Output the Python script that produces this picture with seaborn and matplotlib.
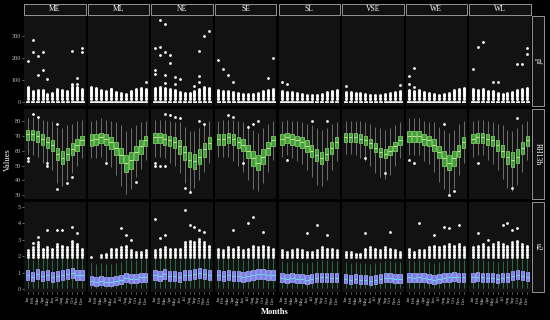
import pandas as pd
import seaborn as sns
import matplotlib.pyplot as plt
from matplotlib.patches import Rectangle

# categories
sites = ["ME", "ML", "NE", "SE", "SL", "VSE", "WE", "WL"]
months = ["Jan", "Feb", "Mar", "Apr", "May", "Jun", "Jul", "Aug", "Sep", "Oct", "Nov", "Dec"]
variables = ["pf", "RH13h", "u2"]

# ---- pf: box stats (tiny boxes near zero) ----
pf_lo = [[0] * 12] * 8
pf_q1 = [[0] * 12] * 8
pf_med = [[1] * 12] * 8
pf_q3 = [[5] * 12] * 8
pf_hi = [[12] * 12] * 8
# top of the dense column of outliers for each month
pf_stack_top = [
    [69, 50, 54, 57, 34, 39, 60, 54, 50, 79, 69, 60],
    [69, 64, 57, 49, 60, 45, 39, 34, 49, 60, 64, 60],
    [65, 70, 65, 60, 55, 45, 40, 40, 50, 60, 70, 65],
    [55, 50, 50, 45, 40, 35, 35, 35, 40, 50, 55, 60],
    [50, 45, 45, 40, 35, 30, 30, 30, 35, 45, 50, 55],
    [45, 45, 40, 40, 35, 30, 30, 30, 35, 40, 45, 50],
    [55, 50, 55, 45, 40, 35, 30, 35, 40, 55, 60, 65],
    [60, 55, 60, 50, 50, 40, 35, 40, 45, 55, 60, 65],
]
pf_stack_levels = [14, 19, 24, 29, 34, 39, 44, 49, 54, 59, 64, 69, 74, 79]
pf_extremes = {
    "ME": [(0, 184), (1, 280), (1, 225), (2, 206), (2, 120), (3, 225), (3, 146),
           (4, 101), (9, 231), (10, 106), (10, 79), (11, 243), (11, 224)],
    "ML": [(4, 57), (11, 90)],
    "NE": [(0, 243), (0, 146), (0, 128), (1, 370), (1, 250), (1, 213), (2, 352),
           (2, 224), (2, 120), (2, 84), (3, 213), (3, 176), (4, 113), (4, 79),
           (5, 101), (8, 72), (9, 228), (9, 116), (9, 90), (10, 300), (11, 320)],
    "SE": [(0, 190), (1, 150), (2, 120), (3, 90), (10, 110), (11, 200)],
    "SL": [(0, 90), (1, 80)],
    "VSE": [(0, 70), (11, 75)],
    "WE": [(0, 115), (0, 80), (1, 155), (1, 65)],
    "WL": [(0, 150), (1, 250), (2, 270), (4, 90), (5, 90), (9, 170), (10, 170),
           (11, 245), (11, 215)],
}

# ---- RH13h ----
rh_med = [
    [71, 71, 70, 68, 66, 64, 58, 55, 58, 61, 64, 67],
    [67, 68, 69, 68, 66, 62, 57, 52, 54, 59, 63, 67],
    [69, 69, 68, 67, 66, 63, 59, 54, 53, 56, 61, 65],
    [68, 68, 69, 68, 66, 64, 60, 55, 52, 56, 62, 67],
    [68, 69, 68, 67, 66, 63, 60, 57, 55, 58, 62, 66],
    [69, 69, 69, 68, 67, 65, 62, 59, 58, 60, 63, 67],
    [70, 70, 70, 68, 67, 64, 59, 55, 52, 55, 60, 66],
    [68, 69, 69, 68, 67, 64, 60, 56, 54, 56, 62, 67],
]
rh_q1 = [
    [67, 67, 66, 64, 62, 60, 54, 51, 54, 57, 60, 64],
    [63, 64, 65, 64, 61, 57, 52, 46, 48, 54, 58, 63],
    [65, 65, 64, 63, 62, 58, 54, 49, 48, 51, 56, 61],
    [64, 64, 65, 64, 62, 60, 55, 50, 47, 51, 57, 63],
    [64, 65, 64, 63, 62, 59, 56, 53, 51, 54, 58, 62],
    [66, 66, 66, 65, 64, 62, 59, 56, 55, 57, 60, 64],
    [66, 66, 66, 64, 63, 60, 55, 50, 47, 50, 56, 62],
    [65, 65, 65, 64, 63, 60, 56, 51, 49, 52, 58, 63],
]
rh_q3 = [
    [74, 74, 73, 71, 69, 67, 62, 60, 62, 65, 68, 70],
    [71, 71, 72, 71, 69, 66, 62, 57, 59, 63, 67, 70],
    [72, 72, 71, 70, 69, 67, 63, 59, 58, 61, 65, 69],
    [71, 71, 72, 71, 69, 68, 64, 60, 57, 61, 66, 70],
    [71, 72, 71, 70, 69, 67, 64, 61, 59, 62, 66, 69],
    [72, 72, 72, 71, 70, 68, 65, 62, 61, 63, 66, 70],
    [73, 73, 73, 71, 70, 68, 63, 60, 57, 60, 64, 69],
    [71, 72, 72, 71, 70, 67, 64, 60, 59, 61, 66, 70],
]
rh_lo = [
    [58, 57, 56, 52, 50, 47, 38, 36, 40, 45, 50, 55],
    [55, 55, 56, 53, 49, 44, 36, 31, 34, 42, 48, 54],
    [56, 56, 55, 52, 50, 45, 38, 33, 35, 40, 46, 52],
    [56, 56, 56, 53, 50, 46, 40, 34, 33, 38, 46, 54],
    [56, 57, 55, 53, 51, 47, 42, 37, 36, 40, 47, 53],
    [58, 58, 57, 55, 53, 50, 45, 42, 41, 44, 50, 55],
    [57, 57, 57, 53, 51, 46, 39, 34, 31, 35, 44, 52],
    [56, 57, 57, 54, 51, 47, 41, 35, 33, 37, 46, 54],
]
rh_hi = [
    [82, 83, 82, 81, 80, 80, 76, 75, 77, 78, 80, 81],
    [80, 81, 82, 81, 80, 79, 77, 73, 75, 77, 79, 80],
    [81, 81, 81, 80, 79, 79, 76, 73, 73, 75, 78, 80],
    [80, 81, 81, 81, 80, 79, 77, 74, 72, 75, 78, 80],
    [80, 81, 80, 80, 79, 78, 77, 75, 74, 75, 78, 79],
    [80, 80, 80, 80, 79, 78, 76, 75, 74, 75, 77, 79],
    [82, 82, 82, 80, 79, 79, 76, 74, 72, 74, 78, 80],
    [80, 81, 81, 80, 79, 78, 77, 74, 73, 75, 78, 80],
]
rh_outliers = {
    "ME": [(0, 55), (0, 53), (1, 85), (2, 83), (4, 52), (4, 50), (6, 78), (6, 34),
           (8, 38), (9, 42)],
    "ML": [(3, 52), (9, 39)],
    "NE": [(0, 52), (0, 50), (1, 50), (2, 85), (2, 50), (3, 84), (4, 83), (5, 82),
           (6, 35), (7, 32), (9, 80), (10, 78)],
    "SE": [(2, 84), (3, 83), (5, 52), (6, 76), (7, 78), (8, 80)],
    "SL": [(1, 54), (6, 80), (9, 80)],
    "VSE": [(4, 55), (8, 45)],
    "WE": [(0, 54), (1, 52), (7, 78), (8, 30), (9, 33)],
    "WL": [(1, 52), (8, 35), (9, 82)],
}

# ---- u2 ----
u2_med = [
    [0.85, 0.75, 0.90, 0.80, 0.85, 0.75, 0.80, 0.85, 0.90, 0.95, 0.85, 0.85],
    [0.50, 0.45, 0.50, 0.45, 0.45, 0.50, 0.55, 0.65, 0.60, 0.60, 0.70, 0.70],
    [0.85, 0.80, 0.90, 0.80, 0.80, 0.75, 0.85, 0.85, 0.90, 0.95, 0.90, 0.85],
    [0.85, 0.80, 0.85, 0.80, 0.80, 0.75, 0.80, 0.85, 0.90, 0.90, 0.85, 0.85],
    [0.65, 0.60, 0.65, 0.60, 0.60, 0.55, 0.60, 0.65, 0.70, 0.70, 0.65, 0.65],
    [0.60, 0.55, 0.60, 0.55, 0.55, 0.50, 0.55, 0.60, 0.65, 0.65, 0.60, 0.60],
    [0.70, 0.65, 0.70, 0.65, 0.60, 0.55, 0.60, 0.65, 0.70, 0.75, 0.70, 0.70],
    [0.70, 0.75, 0.70, 0.65, 0.65, 0.60, 0.65, 0.70, 0.80, 0.85, 0.80, 0.75],
]
u2_q1 = [
    [0.55, 0.50, 0.60, 0.50, 0.55, 0.45, 0.50, 0.55, 0.60, 0.65, 0.55, 0.55],
    [0.25, 0.20, 0.25, 0.20, 0.20, 0.25, 0.30, 0.40, 0.35, 0.35, 0.45, 0.45],
    [0.55, 0.50, 0.60, 0.50, 0.50, 0.45, 0.55, 0.55, 0.60, 0.65, 0.60, 0.55],
    [0.55, 0.50, 0.55, 0.50, 0.50, 0.45, 0.50, 0.55, 0.60, 0.60, 0.55, 0.55],
    [0.40, 0.35, 0.40, 0.35, 0.35, 0.30, 0.35, 0.40, 0.45, 0.45, 0.40, 0.40],
    [0.35, 0.30, 0.35, 0.30, 0.30, 0.25, 0.30, 0.35, 0.40, 0.40, 0.35, 0.35],
    [0.45, 0.40, 0.45, 0.40, 0.35, 0.30, 0.35, 0.40, 0.45, 0.50, 0.45, 0.45],
    [0.45, 0.50, 0.45, 0.40, 0.40, 0.35, 0.40, 0.45, 0.55, 0.60, 0.55, 0.50],
]
u2_q3 = [
    [1.15, 1.05, 1.20, 1.10, 1.15, 1.05, 1.10, 1.15, 1.20, 1.30, 1.15, 1.15],
    [0.80, 0.75, 0.80, 0.75, 0.75, 0.80, 0.85, 1.00, 0.90, 0.90, 1.00, 1.00],
    [1.15, 1.10, 1.20, 1.10, 1.10, 1.05, 1.15, 1.15, 1.20, 1.25, 1.20, 1.15],
    [1.15, 1.10, 1.15, 1.10, 1.10, 1.05, 1.10, 1.15, 1.20, 1.20, 1.15, 1.15],
    [0.95, 0.90, 0.95, 0.90, 0.90, 0.85, 0.90, 0.95, 1.00, 1.00, 0.95, 0.95],
    [0.90, 0.85, 0.90, 0.85, 0.85, 0.80, 0.85, 0.90, 0.95, 0.95, 0.90, 0.90],
    [1.00, 0.95, 1.00, 0.95, 0.90, 0.85, 0.90, 0.95, 1.00, 1.05, 1.00, 1.00],
    [1.00, 1.05, 1.00, 0.95, 0.95, 0.90, 0.95, 1.00, 1.10, 1.15, 1.10, 1.05],
]
u2_lo = [[0.05] * 12] * 8
u2_hi = [
    [1.90, 1.75, 1.95, 1.80, 1.90, 1.75, 1.80, 1.90, 1.95, 2.10, 1.90, 1.90],
    [1.60, 1.55, 1.60, 1.55, 1.55, 1.60, 1.65, 1.85, 1.75, 1.75, 1.80, 1.80],
    [1.90, 1.85, 1.95, 1.85, 1.85, 1.75, 1.90, 1.90, 1.95, 2.05, 1.95, 1.90],
    [1.90, 1.85, 1.90, 1.85, 1.85, 1.75, 1.85, 1.90, 1.95, 1.95, 1.90, 1.90],
    [1.70, 1.65, 1.70, 1.65, 1.65, 1.60, 1.65, 1.70, 1.75, 1.75, 1.70, 1.70],
    [1.65, 1.60, 1.65, 1.60, 1.60, 1.55, 1.60, 1.65, 1.70, 1.70, 1.65, 1.65],
    [1.75, 1.70, 1.75, 1.70, 1.65, 1.60, 1.65, 1.70, 1.75, 1.80, 1.75, 1.75],
    [1.75, 1.80, 1.75, 1.70, 1.70, 1.65, 1.70, 1.75, 1.85, 1.90, 1.85, 1.80],
]
u2_stack_top = [
    [2.4, 2.6, 2.9, 2.5, 2.6, 2.5, 2.8, 2.7, 2.6, 3.0, 2.8, 2.5],
    [2.0, 1.9, 2.1, 2.2, 2.5, 2.5, 2.6, 2.7, 2.4, 2.3, 2.3, 2.4],
    [2.4, 2.5, 2.6, 2.5, 2.5, 2.5, 2.9, 3.0, 2.9, 3.1, 2.9, 2.7],
    [2.5, 2.4, 2.6, 2.5, 2.6, 2.4, 2.5, 2.7, 2.6, 2.7, 2.6, 2.5],
    [2.4, 2.3, 2.4, 2.5, 2.4, 2.3, 2.3, 2.4, 2.6, 2.5, 2.5, 2.4],
    [2.3, 2.3, 2.2, 2.2, 2.5, 2.6, 2.5, 2.4, 2.6, 2.5, 2.4, 2.3],
    [2.5, 2.3, 2.4, 2.4, 2.6, 2.7, 2.6, 2.7, 2.8, 2.7, 2.8, 2.6],
    [2.6, 2.7, 2.8, 2.6, 2.8, 2.9, 2.8, 2.7, 2.9, 3.0, 2.8, 2.7],
]
u2_stack_levels = [1.95, 2.05, 2.15, 2.25, 2.35, 2.45, 2.55, 2.65, 2.75, 2.85, 2.95, 3.05]
u2_extremes = {
    "ME": [(1, 2.8), (2, 3.2), (4, 3.6), (6, 3.6), (7, 3.6), (9, 3.8), (10, 3.4)],
    "ML": [(6, 3.7), (7, 3.3), (8, 3.0)],
    "NE": [(0, 4.3), (1, 3.1), (2, 3.3), (6, 4.8), (7, 3.9), (8, 3.8), (9, 3.6), (10, 3.5)],
    "SE": [(3, 3.6), (6, 4.0), (7, 4.4), (9, 3.5)],
    "SL": [(5, 3.4), (7, 3.9), (9, 3.3)],
    "VSE": [(4, 3.4), (9, 3.5)],
    "WE": [(2, 4.0), (5, 3.3), (7, 3.8), (8, 3.7), (10, 3.9)],
    "WL": [(1, 3.4), (3, 3.0), (6, 3.9), (7, 4.0), (8, 3.6), (9, 3.7)],
}

stats = {
    "pf": (pf_lo, pf_q1, pf_med, pf_q3, pf_hi),
    "RH13h": (rh_lo, rh_q1, rh_med, rh_q3, rh_hi),
    "u2": (u2_lo, u2_q1, u2_med, u2_q3, u2_hi),
}

# long table: five values per box give exactly lo/q1/median/q3/hi
rows = []
for var, arrs in stats.items():
    for i, site in enumerate(sites):
        for m, mon in enumerate(months):
            for arr in arrs:
                rows.append((var, site, mon, arr[i][m]))
box_df = pd.DataFrame(rows, columns=["var", "site", "month", "value"])

out_rows = []
for i, site in enumerate(sites):
    for m, mon in enumerate(months):
        for lv in pf_stack_levels:
            if lv <= pf_stack_top[i][m]:
                out_rows.append(("pf", site, mon, lv))
        for lv in u2_stack_levels:
            if lv <= u2_stack_top[i][m]:
                out_rows.append(("u2", site, mon, lv))
    for m, v in pf_extremes[site]:
        out_rows.append(("pf", site, months[m], v))
    for m, v in rh_outliers[site]:
        out_rows.append(("RH13h", site, months[m], v))
    for m, v in u2_extremes[site]:
        out_rows.append(("u2", site, months[m], v))
out_df = pd.DataFrame(out_rows, columns=["var", "site", "month", "value"])

styles = {
    "pf": dict(fill="#d9d9d9", edge="#f0f0f0", med="#ffffff", whisk="#9a9a9a"),
    "RH13h": dict(fill="#3f9e3f", edge="#86cf62", med="#c9e58f", whisk="#7c7c7c"),
    "u2": dict(fill="#7b7fe6", edge="#a3a8ff", med="#63e6e6", whisk="#2f7a4f"),
}
ylims = {"pf": (-19, 389), "RH13h": (27.5, 88), "u2": (-0.2, 5.3)}
yticks = {"pf": [0, 100, 200, 300], "RH13h": [30, 40, 50, 60, 70, 80], "u2": [0, 1, 2, 3, 4, 5]}

plt.rcParams["font.family"] = ["Liberation Serif", "DejaVu Serif"]
fig, axes = plt.subplots(3, 8, figsize=(5.5, 3.2), dpi=100, sharex=True)
fig.patch.set_facecolor("black")
fig.subplots_adjust(left=0.044, right=0.965, top=0.95, bottom=0.087, wspace=0.035, hspace=0.035)

for r, var in enumerate(variables):
    st = styles[var]
    for c, site in enumerate(sites):
        ax = axes[r, c]
        ax.set_facecolor("#121212")
        sub = box_df[(box_df["var"] == var) & (box_df["site"] == site)]
        sns.boxplot(data=sub, x="month", y="value", order=months, ax=ax,
                    color=st["fill"], saturation=1, width=0.7, linewidth=0.6,
                    whis=(0, 100), showfliers=False, showcaps=False,
                    boxprops=dict(edgecolor=st["edge"]),
                    medianprops=dict(color=st["med"], linewidth=0.7),
                    whiskerprops=dict(color=st["whisk"], linewidth=0.6))
        osub = out_df[(out_df["var"] == var) & (out_df["site"] == site)]
        if len(osub):
            sns.stripplot(data=osub, x="month", y="value", order=months, ax=ax,
                          jitter=False, color="white", size=2.0, linewidth=0)
        ax.set_ylim(*ylims[var])
        ax.set_yticks(yticks[var])
        ax.set_xlim(-0.7, 11.7)
        ax.set_xlabel("")
        ax.set_ylabel("")
        for s in ax.spines.values():
            s.set_visible(False)
        ax.tick_params(axis="both", colors="#bbbbbb", length=1.5, width=0.4,
                       labelsize=4.5, pad=1)
        if c > 0:
            ax.tick_params(axis="y", labelleft=False, length=0)
        if r < 2:
            ax.tick_params(axis="x", length=0)
        else:
            ax.set_xticks(range(12))
            ax.set_xticklabels(months, rotation=90, fontsize=3.5, color="#cccccc")
        if r == 0:
            ax.add_patch(Rectangle((0, 1.012), 1, 0.125, transform=ax.transAxes,
                                   facecolor="#111111", edgecolor="#aaaaaa",
                                   linewidth=0.6, clip_on=False))
            ax.text(0.5, 1.075, site, transform=ax.transAxes, ha="center",
                    va="center", color="white", fontsize=5.5)
        if c == 7:
            ax.add_patch(Rectangle((1.018, 0), 0.2, 1, transform=ax.transAxes,
                                   facecolor="#111111", edgecolor="#aaaaaa",
                                   linewidth=0.6, clip_on=False))
            ax.text(1.118, 0.5, var, transform=ax.transAxes, ha="center",
                    va="center", rotation=270, color="white", fontsize=5.5)

fig.text(0.015, 0.5, "Values", rotation=90, ha="center", va="center",
         color="white", fontsize=6)
fig.text(0.5, 0.025, "Months", ha="center", va="center", color="white",
         fontsize=6, fontweight="bold")

plt.savefig("out.png", dpi=100, facecolor=fig.get_facecolor())
